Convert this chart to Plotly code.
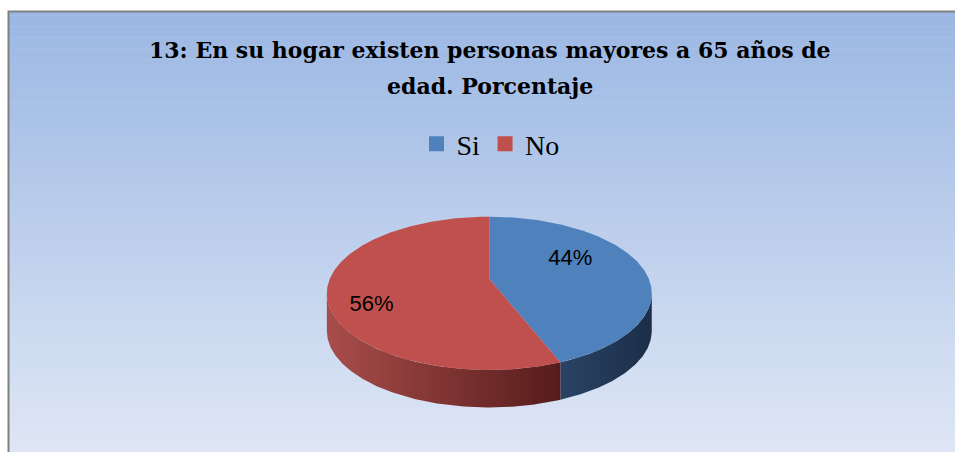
import numpy as np
import plotly.graph_objects as go

# ---- data ----
categories = ["Si", "No"]
values = [44, 56]
pct_labels = ["44%", "56%"]
title_lines = ["13: En su hogar existen personas mayores a 65 años de", "edad. Porcentaje"]

# ---- styles ----
top_colors = ["#4F81BD", "#C0504D"]
side_scales = [
    [[0, "#2A4365"], [1, "#1C2E48"]],
    [[0, "#A84D4A"], [1, "#561C1B"]],
]
SERIF = "Liberation Serif"
TITLE_FONT = "DejaVu Serif"
title_y = [50, 86]
W, H = 955, 452
# perspective pie geometry (pixels)
AX, AY = 489.3, 279.0      # projected pie centre
BX, BY = 159.6, 73.96      # projected radius scales
Q = 0.1872                 # perspective strength
DEPTH = 37.5
label_r = [0.5, 0.75]
label_dx = [4, 3]
label_dy = [-13, 16]


def rim(theta_deg, r=1.0, dy=0.0):
    t = np.radians(theta_deg)
    den = 1.0 + Q * r * np.cos(t)
    return AX + BX * r * np.sin(t) / den, AY - BY * r * np.cos(t) / den + dy


fig = go.Figure()
total = float(sum(values))
bounds = np.concatenate([[0.0], np.cumsum(values) / total * 360.0])
sil = np.degrees(np.arccos(-Q))  # silhouette angle

# side walls (front part only)
for i in range(len(values)):
    lo, hi = max(bounds[i], sil), min(bounds[i + 1], 360.0 - sil)
    if lo >= hi:
        continue
    th = np.linspace(lo, hi, 150)
    xt, yt = rim(th)
    xb, yb = rim(th[::-1], dy=DEPTH)
    fig.add_trace(go.Scatter(
        x=np.concatenate([xt, xb, xt[:1]]), y=np.concatenate([yt, yb, yt[:1]]),
        mode="lines", line=dict(width=0), fill="toself",
        fillgradient=dict(type="horizontal", colorscale=side_scales[i]),
        hoverinfo="skip", showlegend=False))

# top faces
for i in range(len(values)):
    th = np.linspace(bounds[i], bounds[i + 1], 240)
    xa, ya = rim(th)
    fig.add_trace(go.Scatter(
        x=np.concatenate([[AX], xa, [AX]]), y=np.concatenate([[AY], ya, [AY]]),
        mode="lines", line=dict(width=0), fill="toself", fillcolor=top_colors[i],
        hoverinfo="skip", showlegend=False))

# percentage labels
mids = (bounds[:-1] + bounds[1:]) / 2
lx, ly = [], []
for i, m in enumerate(mids):
    x, y = rim(m, r=label_r[i])
    lx.append(x + label_dx[i])
    ly.append(y + label_dy[i])
fig.add_trace(go.Scatter(x=lx, y=ly, mode="text", text=pct_labels,
                         textfont=dict(family="Liberation Sans", size=22, color="#000000"),
                         hoverinfo="skip", showlegend=False))

# legend entries
for i, c in enumerate(categories):
    fig.add_trace(go.Scatter(x=[None], y=[None], mode="markers", name=c,
                             marker=dict(symbol="square", size=15, color=top_colors[i])))

# background gradient bands
shapes = []
n = 120
y0f, y1f = 11.5, 452.0
c_top = np.array([0x9B, 0xB7, 0xE3])
c_bot = np.array([0xDE, 0xE6, 0xF5])
for k in range(n):
    f = k / (n - 1)
    c = (c_top * (1 - f) + c_bot * f).round().astype(int)
    ya = y0f + (y1f - y0f) * k / n
    yb = y0f + (y1f - y0f) * (k + 1) / n + 0.6
    shapes.append(dict(type="rect", xref="x", yref="y", x0=8.5, x1=960, y0=ya, y1=yb,
                       line=dict(width=0), fillcolor=f"rgb({c[0]},{c[1]},{c[2]})", layer="below"))
shapes.append(dict(type="rect", xref="x", yref="y", x0=8.5, x1=962, y0=11.5, y1=462,
                   line=dict(color="#808080", width=2), fillcolor="rgba(0,0,0,0)", layer="above"))

annotations = [dict(text=t, xref="x", yref="y", x=489.5, y=yy,
                    showarrow=False, xanchor="center", yanchor="middle",
                    font=dict(family=TITLE_FONT, size=22, color="#000000", weight=700))
               for t, yy in zip(title_lines, title_y)]

fig.update_layout(
    width=W, height=H, margin=dict(l=0, r=0, t=0, b=0),
    paper_bgcolor="white", plot_bgcolor="rgba(0,0,0,0)",
    xaxis=dict(range=[0, W], visible=False, fixedrange=True),
    yaxis=dict(range=[H, 0], visible=False, fixedrange=True),
    shapes=shapes,
    showlegend=True,
    legend=dict(orientation="h", x=490.5 / W, xanchor="center", y=1 - 144 / H, yanchor="middle",
                font=dict(family=SERIF, size=28, color="#000000"),
                bgcolor="rgba(0,0,0,0)", itemwidth=30, tracegroupgap=0),
    annotations=annotations,
)

fig.write_html("out.html", config={"displayModeBar": False},
               post_script="document.body.style.margin='0';document.body.style.overflow='hidden';")
